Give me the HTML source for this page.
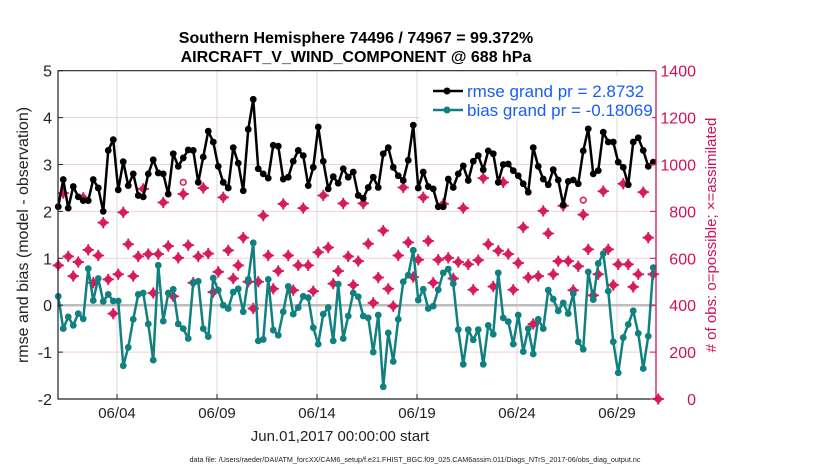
<!DOCTYPE html>
<html><head><meta charset="utf-8"><style>
html,body{margin:0;padding:0;background:#fff;}
svg{display:block;font-family:"Liberation Sans",Arial,sans-serif;}
</style></head><body>
<svg id="chart" width="830" height="470" viewBox="0 0 830 470">
<rect x="0" y="0" width="830" height="470" fill="#fff"/>
<text x="356" y="43" text-anchor="middle" font-size="16" font-weight="bold">Southern Hemisphere 74496 / 74967 = 99.372%</text>
<text x="356" y="62" text-anchor="middle" font-size="16" font-weight="bold">AIRCRAFT_V_WIND_COMPONENT @ 688 hPa</text>
<g id="grid"></g>
<g id="series"></g>
<g id="axes"></g>
<text transform="translate(28,235) rotate(-90)" text-anchor="middle" font-size="16" fill="#222">rmse and bias (model - observation)</text>
<text transform="translate(716,235) rotate(-90)" text-anchor="middle" font-size="15" fill="#d0105a"># of obs: o=possible; ×=assimilated</text>
<text x="340" y="441" text-anchor="middle" font-size="15" fill="#222">Jun.01,2017 00:00:00 start</text>
<text x="415" y="462" text-anchor="middle" font-size="7.2" fill="#222">data file: /Users/raeder/DAI/ATM_forcXX/CAM6_setup/f.e21.FHIST_BGC.f09_025.CAM6assim.011/Diags_NTrS_2017-06/obs_diag_output.nc</text>
<g id="legend">
<rect x="420" y="76" width="232" height="42" fill="#fff"/>
<line x1="433" y1="91" x2="463" y2="91" stroke="#000" stroke-width="2.5"/>
<circle cx="447" cy="91" r="3.5" fill="#000"/>
<text x="467" y="97" font-size="17" fill="#1a5ef0">rmse grand pr = 2.8732</text>
<line x1="433" y1="110" x2="463" y2="110" stroke="#108080" stroke-width="2.5"/>
<circle cx="447" cy="110" r="3.5" fill="#108080"/>
<text x="467" y="116" font-size="17" fill="#1a5ef0">bias grand pr = -0.18069</text>
</g>
</svg>
<script>
const rmse = [2.10,2.68,2.07,2.53,2.31,2.23,2.23,2.68,2.5,2.0,
3.3,3.53,2.46,3.06,2.55,2.8,2.34,2.31,2.8,3.1,
2.82,2.8,2.37,3.23,2.96,3.14,3.31,3.3,2.62,3.16,
3.71,3.48,2.96,2.62,2.5,3.36,3.03,2.44,3.75,4.39,
2.91,2.8,2.71,3.41,3.39,2.69,2.73,3.07,3.3,3.19,
2.55,2.94,3.8,3.07,2.48,2.74,2.6,2.91,2.73,2.84,
2.34,2.28,2.51,2.73,2.51,3.23,3.36,2.94,2.76,2.66,
3.09,3.84,2.5,2.84,2.53,2.48,2.1,2.1,2.69,2.51,
2.8,2.97,2.66,3.07,3.19,2.89,3.29,3.23,2.62,3.0,
3.01,2.87,2.76,2.59,2.41,3.36,2.96,2.69,2.57,2.89,
2.67,2.14,2.64,2.67,2.59,3.29,3.76,2.8,2.87,3.69,
3.48,3.48,3.05,2.94,2.57,3.48,3.57,3.3,2.96,3.05];
const bias = [0.19,-0.5,-0.25,-0.43,-0.18,-0.29,0.78,0.1,0.57,0.08,
0.23,0.09,0.09,-1.29,-0.9,-0.3,0.23,0.26,-0.4,-1.17,
0.85,-0.34,0.26,0.34,-0.4,-0.5,-0.71,0.48,0.51,-0.5,
-0.67,0.58,0.32,0,-0.07,0.28,0.35,-0.14,0.55,1.33,
-0.76,-0.73,0.55,-0.53,-0.64,-0.14,0.4,-0.19,-0.05,0.19,
0.16,-0.48,-0.83,-0.19,-0.05,-0.76,0.45,-0.71,-0.23,0.26,
0.18,-0.23,-0.27,-1.0,-0.21,-1.74,-0.59,-1.2,-0.3,0.5,
0.64,1.17,0.11,0.34,-0.07,-0.02,0.33,0.69,0.77,0.46,
-0.52,-1.26,-0.52,-0.74,-0.52,-1.26,-0.43,-0.62,0.69,-0.27,
-0.35,-0.83,-0.21,-0.99,-0.5,-1.04,-0.3,-0.5,0.32,0.13,
-0.12,0.05,-0.18,0.25,-0.78,-0.94,0.71,0.12,0.89,1.1,
0.3,-0.78,-1.44,-0.69,-0.41,-0.12,-0.6,-1.35,-0.66,0.8];
const obsAssimilated = [570,878,608,524,584,858,636,496,612,752,
510,364,532,796,660,524,608,896,618,452,
618,838,652,438,602,874,656,496,608,900,
620,456,542,860,634,514,570,688,500,386,
500,782,612,470,546,832,612,464,570,814,
570,460,626,868,646,492,546,834,608,486,
588,834,662,410,518,718,470,396,612,902,
668,520,594,860,674,496,594,832,602,514,
584,814,574,466,592,942,660,480,632,924,
618,466,580,732,518,320,524,802,706,532,
588,824,588,464,566,786,638,442,532,886,
638,486,574,918,574,478,532,882,688,532,0];
const obsPossible = [570,878,608,524,584,858,636,496,612,752,
510,364,532,796,660,524,608,896,618,452,
618,838,652,438,602,924,656,496,608,900,
620,456,542,860,634,514,570,688,500,386,
500,782,612,470,546,832,612,464,570,814,
570,460,626,868,646,492,546,834,608,486,
588,834,662,410,518,718,470,396,612,902,
668,520,594,860,674,496,594,832,602,514,
584,814,574,466,592,942,660,480,632,924,
618,466,580,732,518,320,524,802,706,532,
588,824,588,464,566,848,638,442,532,886,
638,486,574,918,574,478,532,882,688,532,0];
const leftTicks = [-2,-1,0,1,2,3,4,5];
const rightTicks = [0,200,400,600,800,1000,1200,1400];
const xTickDays = [3,8,13,18,23,28];
const xTickLabels = ["06/04","06/09","06/14","06/19","06/24","06/29"];

const NS = "http://www.w3.org/2000/svg";
const X0 = 57, PX_DAY = 20, PL = 58, PR = 655, PT = 70.7, PB = 399;
function xDay(d){ return X0 + d*PX_DAY; }
function xIdx(i){ return xDay((i*6+1.5)/24); }
function yL(v){ return PB - (v+2)*(PB-PT)/7; }
function yR(c){ return PB - c*(PB-PT)/1400; }
function mk(tag, attrs, parent){
  const e = document.createElementNS(NS, tag);
  for (const k in attrs) e.setAttribute(k, attrs[k]);
  parent.appendChild(e); return e;
}
const grid = document.getElementById('grid');
const series = document.getElementById('series');
const axes = document.getElementById('axes');

leftTicks.forEach(v => {
  if (v === -2 || v === 5) return;
  const l = mk('line', {x1:PL, x2:PR, y1:yL(v), y2:yL(v), stroke:'#f3cfdc', 'stroke-width':1}, grid);
  
  
});
xTickDays.forEach(d => {
  const l = mk('line', {x1:xDay(d), x2:xDay(d), y1:PT, y2:PB, stroke:'#d8d8d8', 'stroke-width':1}, grid);
  
  
});
const zl = mk('line', {x1:PL, x2:PR, y1:yL(0), y2:yL(0), stroke:'#bdbdbd', 'stroke-width':2.5}, grid);



const OC = '#d81b5e';
obsPossible.forEach((c, i) => {
  const ci = mk('circle', {cx:xIdx(i), cy:yR(c), r:2.8, fill:'none', stroke:OC, 'stroke-width':1.6}, series);
  
  
});
obsAssimilated.forEach((c, i) => {
  const x = xIdx(i), y = yR(c);
  const g = mk('g', {stroke:OC, 'stroke-width':2, 'stroke-linecap':'round'}, series);
  
  
  mk('path', {d:`M${x},${y-4.2} L${x+4.2},${y} L${x},${y+4.2} L${x-4.2},${y} Z`, fill:OC, 'stroke-width':1}, g);
  mk('line', {x1:x-4.8, x2:x+4.8, y1:y, y2:y}, g);
  mk('line', {x1:x, x2:x, y1:y-4.8, y2:y+4.8}, g);
});

function drawSeries(arr, color, name){
  const pts = arr.map((v,i) => xIdx(i).toFixed(2)+','+yL(v).toFixed(2)).join(' ');
  const pl = mk('polyline', {points:pts, fill:'none', stroke:color, 'stroke-width':2.5, 'stroke-linejoin':'round'}, series);
  
  
  arr.forEach((v,i) => {
    const c = mk('circle', {cx:xIdx(i), cy:yL(v), r:3.4, fill:color}, series);
    
    
  });
}
drawSeries(bias, '#108080', 'bias');
drawSeries(rmse, '#000000', 'rmse');

const f1 = mk('path', {d:`M${PR},${PT} L${PL},${PT} L${PL},${PB} L${PR},${PB}`, fill:'none', stroke:'#222', 'stroke-width':1.2}, axes);


const f2 = mk('line', {x1:PR+1, x2:PR+1, y1:PT, y2:PB, stroke:'#d0105a', 'stroke-width':1.3}, axes);



leftTicks.forEach(v => {
  mk('line', {x1:PL, x2:PL+5, y1:yL(v), y2:yL(v), stroke:'#222', 'stroke-width':1}, axes);
  const t = mk('text', {x:52, y:yL(v)+6, 'text-anchor':'end', 'font-size':16, fill:'#222'}, axes);
  t.textContent = v;
  
  
});
rightTicks.forEach(c => {
  mk('line', {x1:PR-5, x2:PR+1, y1:yR(c), y2:yR(c), stroke:'#d0105a', 'stroke-width':1}, axes);
  const t = mk('text', {x:696, y:yR(c)+6, 'text-anchor':'end', 'font-size':16, fill:'#d0105a'}, axes);
  t.textContent = c;
  
  
});
xTickDays.forEach((d, k) => {
  mk('line', {x1:xDay(d), x2:xDay(d), y1:PB, y2:PB-5, stroke:'#222', 'stroke-width':1}, axes);
  const t = mk('text', {x:xDay(d), y:418, 'text-anchor':'middle', 'font-size':15, fill:'#222'}, axes);
  t.textContent = xTickLabels[k];
  
  
});
</script>
</body></html>
